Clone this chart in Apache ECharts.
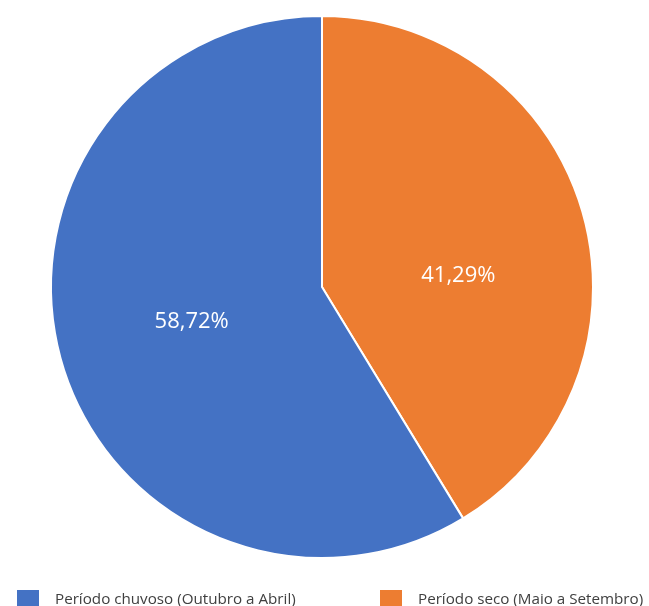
<!DOCTYPE html>
<html>
<head>
<meta charset="utf-8">
<script src="https://cdn.jsdelivr.net/npm/echarts@6/dist/echarts.min.js"></script>
<style>
html,body{margin:0;padding:0;background:#fff;}
#chart{width:649px;height:606px;}
</style>
</head>
<body>
<div id="chart"></div>
<script>
// Data
const categories = ['Período seco (Maio a Setembro)', 'Período chuvoso (Outubro a Abril)'];
const values = [41.29, 58.72];
const labels = ['41,29%', '58,72%'];
const legendOrder = ['Período chuvoso (Outubro a Abril)', 'Período seco (Maio a Setembro)'];
const colors = ['#ED7D31', '#4472C4'];

const legendBase = {
  top: 583,
  itemWidth: 24,
  itemHeight: 22,
  icon: 'path://M0,0H24V22H0Z',
  selectedMode: false,
  textStyle: {
    fontFamily: 'Open Sans',
    fontSize: 15.2,
    color: '#404040',
    padding: [0, 0, 0, 10]
  }
};

const chart = echarts.init(document.getElementById('chart'), null, {renderer: 'canvas'});
chart.setOption({
  animation: false,
  backgroundColor: '#ffffff',
  legend: [
    Object.assign({}, legendBase, {data: [legendOrder[0]], left: 10}),
    Object.assign({}, legendBase, {data: [legendOrder[1]], left: 373})
  ],
  series: [{
    type: 'pie',
    center: [322, 287],
    radius: [0, 271],
    startAngle: 90,
    clockwise: true,
    avoidLabelOverlap: false,
    itemStyle: {borderColor: '#ffffff', borderWidth: 2},
    label: {
      show: true,
      position: 'inside',
      color: '#ffffff',
      fontFamily: 'Open Sans',
      fontSize: 22,
      formatter: p => labels[p.dataIndex]
    },
    labelLayout: function (params) {
      if (params.dataIndex === 0) return {dy: 26, dx: 3};
      return {dx: 3, dy: -3};
    },
    emphasis: {disabled: true},
    data: categories.map((c, i) => ({name: c, value: values[i], itemStyle: {color: colors[i]}}))
  }]
});
</script>
</body>
</html>
